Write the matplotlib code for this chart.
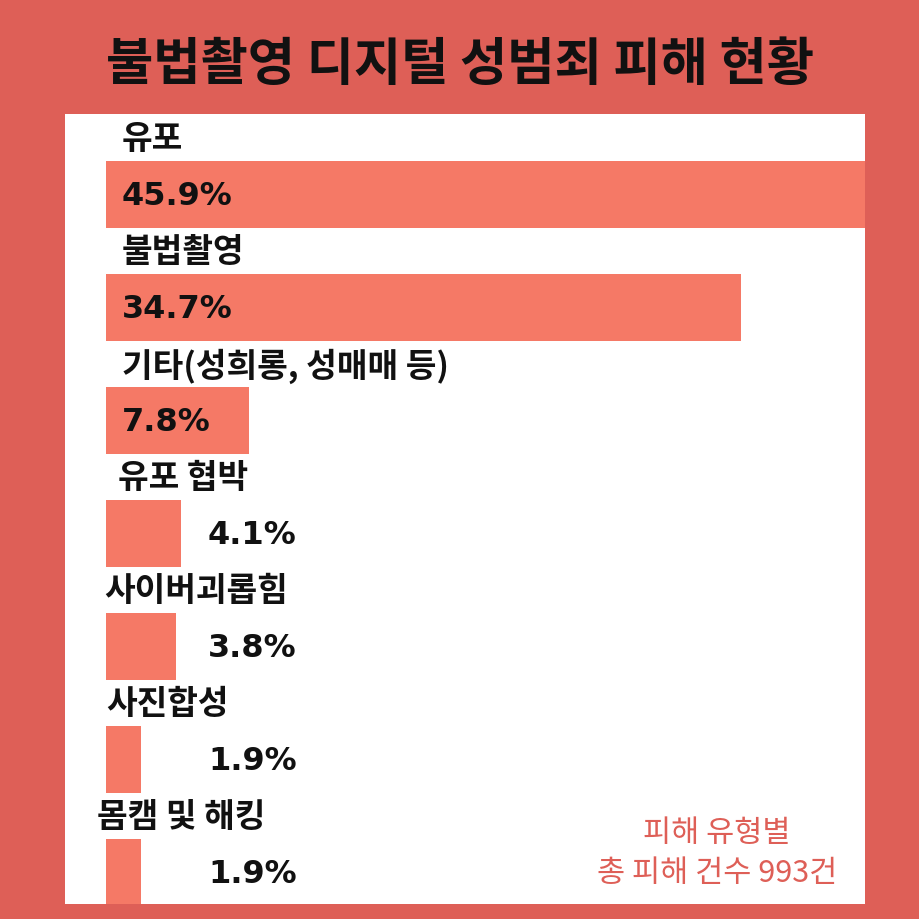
import matplotlib
matplotlib.use('Agg')
import matplotlib.pyplot as plt

plt.rcParams['font.family'] = ['Noto Sans CJK KR', 'DejaVu Sans']

# data
kategori = ['유포', '불법촬영', '기타(성희롱, 성매매 등)', '유포 협박',
            '사이버괴롭힘', '사진합성', '몸캠 및 해킹']
persen = [45.9, 34.7, 7.8, 4.1, 3.8, 1.9, 1.9]
label_persen = ['45.9%', '34.7%', '7.8%', '4.1%', '3.8%', '1.9%', '1.9%']
judul = '불법촬영 디지털 성범죄 피해 현황'
catatan = '피해 유형별\n총 피해 건수 993건'

warna_latar = '#DE5F57'
warna_bar = '#F57966'

fig = plt.figure(figsize=(9.2, 9.2), dpi=100)
fig.patch.set_facecolor(warna_latar)

# panel putih = axes
ax = fig.add_axes([65/920, 15/920, 800/920, 790/920])
ax.set_facecolor('white')
for s in ax.spines.values():
    s.set_visible(False)
ax.set_xticks([])
ax.set_yticks([])

skala = 18.3  # px per persen
x0 = (106 - 65) / skala
ax.set_xlim(-x0, 800 / skala - x0)
ax.set_ylim(6.28, -0.71)

posisi = list(range(len(kategori)))
ax.barh(posisi, persen, height=0.59, color=warna_bar, left=0)

# geser label kategori (px)
geser_label = [16, 16, 16, 12, -2, 0, -9]
for i, (nama, nilai, teks) in enumerate(zip(kategori, persen, label_persen)):
    ax.text(geser_label[i] / skala, i - 0.49, nama, fontsize=24,
            fontweight='bold', va='center', ha='left', color='#111111')
    if nilai > 6:
        xt = 16 / skala
    else:
        xt = 102 / skala
    ax.text(xt, i + 0.01, teks, fontsize=23, fontweight='bold',
            family='DejaVu Sans', va='center', ha='left', color='#111111')

ax.text(0.815, 0.065, catatan, transform=ax.transAxes, fontsize=22,
        fontweight='medium', color=warna_latar, ha='center', va='center',
        linespacing=1.35)

fig.text(0.5, 0.93, judul, fontsize=37, fontweight='heavy',
         ha='center', va='center', color='#111111')

fig.savefig('out.png', dpi=100, facecolor=fig.get_facecolor())
